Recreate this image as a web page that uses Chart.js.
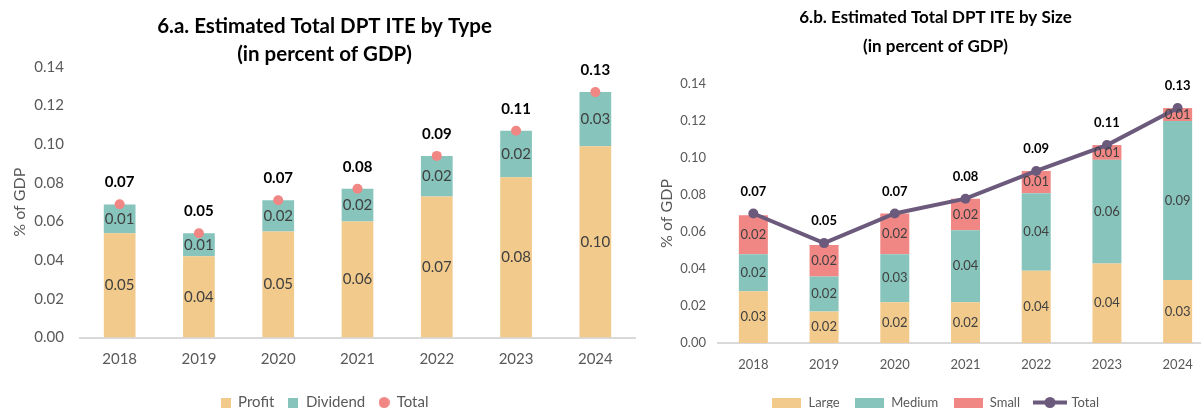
<!DOCTYPE html>
<html>
<head>
<meta charset="utf-8">
<title>Estimated Total DPT ITE</title>
<script src="https://cdn.jsdelivr.net/npm/chart.js@4.4.1/dist/chart.umd.min.js"></script>
<style>
  html, body { margin: 0; padding: 0; background: #fff; overflow: hidden; }
  body { width: 1201px; height: 408px; position: relative; }
  .panel { position: absolute; top: 0; height: 408px; overflow: hidden; }
  #typePanel { left: 0; width: 640px; }
  #sizePanel { left: 640px; width: 561px; }
  canvas { display: block; }
</style>
</head>
<body>
<div class="panel" id="typePanel"><canvas id="typeChart" width="640" height="420"></canvas></div>
<div class="panel" id="sizePanel"><canvas id="sizeChart" width="578" height="419"></canvas></div>
<script>
// Values (percent of GDP)
const years = ['2018', '2019', '2020', '2021', '2022', '2023', '2024'];
const yTicks = [0, 0.02, 0.04, 0.06, 0.08, 0.10, 0.12, 0.14];

// 6.a - by type
const profit = [0.054, 0.042, 0.0548, 0.060, 0.073, 0.083, 0.099];
const dividend = [0.0148, 0.012, 0.0162, 0.017, 0.021, 0.024, 0.028];
const totalByType = [0.069, 0.054, 0.071, 0.077, 0.094, 0.107, 0.127];

// 6.b - by size
const large = [0.028, 0.017, 0.022, 0.022, 0.039, 0.043, 0.034];
const medium = [0.020, 0.019, 0.026, 0.039, 0.042, 0.056, 0.086];
const small = [0.021, 0.017, 0.022, 0.017, 0.012, 0.008, 0.007];
const totalBySize = [0.070, 0.054, 0.070, 0.078, 0.093, 0.107, 0.127];

const colors = {
    peach: '#F2CA8C',
    teal: '#86C4BC',
    salmon: '#F08784',
    purple: '#6C5A7C',
    axis: '#D9D9D9',
    tick: '#595959',
    inner: '#404040'
};

Chart.defaults.font.family = 'Lato, "Open Sans", sans-serif';
Chart.defaults.color = colors.tick;

// small canvases used as legend markers
function marker(w, h, draw) {
    const c = document.createElement('canvas');
    c.width = w;
    c.height = h;
    draw(c.getContext('2d'), w, h);
    return c;
}
function boxMarker(w, h, color) {
    return marker(w, h, (ctx) => { ctx.fillStyle = color; ctx.fillRect(0, 0, w, h); });
}
function dotMarker(d, color) {
    return marker(d, d, (ctx) => {
        ctx.fillStyle = color;
        ctx.beginPath();
        ctx.arc(d / 2, d / 2, d / 2, 0, Math.PI * 2);
        ctx.fill();
    });
}
function lineDotMarker(w, h, color) {
    return marker(w, h, (ctx) => {
        ctx.strokeStyle = color;
        ctx.lineWidth = 4;
        ctx.beginPath();
        ctx.moveTo(0, h / 2);
        ctx.lineTo(w, h / 2);
        ctx.stroke();
        ctx.fillStyle = color;
        ctx.beginPath();
        ctx.arc(w / 2, h / 2, h / 2, 0, Math.PI * 2);
        ctx.fill();
    });
}

// Draws the segment values inside the bars and the totals above the points
const valueLabels = {
    id: 'valueLabels',
    afterDatasetsDraw(chart, args, opts) {
        const ctx = chart.ctx;
        ctx.save();
        ctx.textAlign = 'center';
        ctx.textBaseline = 'middle';
        chart.data.datasets.forEach((ds, i) => {
            const meta = chart.getDatasetMeta(i);
            if (meta.hidden) return;
            meta.data.forEach((el, j) => {
                const text = ds.data[j].toFixed(2);
                if (meta.type === 'bar') {
                    const p = el.getProps(['x', 'y', 'base'], true);
                    ctx.font = opts.size + 'px ' + Chart.defaults.font.family;
                    ctx.fillStyle = colors.inner;
                    ctx.fillText(text, p.x, (p.y + p.base) / 2);
                } else {
                    ctx.font = 'bold ' + opts.size + 'px ' + Chart.defaults.font.family;
                    ctx.fillStyle = '#000';
                    ctx.fillText(text, el.x, el.y - opts.offset);
                }
            });
        });
        ctx.restore();
    }
};

function makeOptions(cfg) {
    return {
        responsive: false,
        animation: false,
        layout: { padding: cfg.padding },
        scales: {
            x: {
                stacked: true,
                grid: { display: false, drawTicks: false },
                border: { display: true, color: colors.axis, width: 2 },
                ticks: { padding: cfg.xPad, font: { size: cfg.tickSize }, color: colors.tick },
                afterFit: (s) => { s.height = cfg.xHeight; }
            },
            y: {
                stacked: true,
                min: 0,
                max: 0.14,
                grid: { display: false, drawTicks: false },
                border: { display: false },
                afterBuildTicks: (s) => { s.ticks = yTicks.map(v => ({ value: v })); },
                ticks: {
                    padding: cfg.yPad,
                    font: { size: cfg.tickSize },
                    color: colors.tick,
                    callback: (v) => Number(v).toFixed(2)
                },
                title: {
                    display: true,
                    text: '% of GDP',
                    color: colors.tick,
                    font: { size: 16, lineHeight: '16px' },
                    padding: { top: cfg.yTitlePad, bottom: 0 }
                },
                afterFit: (s) => { s.width = cfg.yWidth; }
            }
        },
        plugins: {
            title: {
                display: true,
                text: cfg.title,
                color: '#000',
                font: { size: cfg.titleSize, weight: 'bold', lineHeight: cfg.titleLine },
                padding: cfg.titlePad
            },
            legend: {
                position: 'bottom',
                labels: {
                    usePointStyle: true,
                    boxWidth: cfg.boxWidth,
                    boxHeight: 10,
                    pointStyleWidth: cfg.boxWidth,
                    padding: cfg.legendPad,
                    color: colors.tick,
                    font: { size: cfg.legendSize },
                    sort: (a, b) => a.datasetIndex - b.datasetIndex,
                    generateLabels: (chart) => {
                        const items = Chart.defaults.plugins.legend.labels.generateLabels(chart);
                        items.forEach(it => { it.pointStyle = cfg.markers[it.datasetIndex]; });
                        return items;
                    }
                }
            },
            tooltip: { enabled: false },
            valueLabels: { size: cfg.labelSize, offset: 22 }
        }
    };
}

// 6.a Estimated Total DPT ITE by Type
new Chart(document.getElementById('typeChart'), {
    type: 'bar',
    data: {
        labels: years,
        datasets: [
            { label: 'Profit', data: profit, backgroundColor: colors.peach, order: 1,
              categoryPercentage: 1, barPercentage: 0.4 },
            { label: 'Dividend', data: dividend, backgroundColor: colors.teal, order: 1,
              categoryPercentage: 1, barPercentage: 0.4 },
            { label: 'Total', type: 'line', data: totalByType, stack: 'total', order: 0,
              showLine: false, pointRadius: 5, pointBorderWidth: 0,
              pointBackgroundColor: colors.salmon, backgroundColor: colors.salmon }
        ]
    },
    options: makeOptions({
        title: ['6.a. Estimated Total DPT ITE by Type', '(in percent of GDP)'],
        titleSize: 20.5, titleLine: '28px', titlePad: { top: 12, bottom: -1 },
        padding: { left: 12, right: 3, top: 0, bottom: 0 },
        tickSize: 15, labelSize: 15, legendSize: 15,
        xPad: 13, xHeight: 43.5, yPad: 16, yWidth: 68, yTitlePad: 0,
        boxWidth: 10, legendPad: 14,
        markers: [boxMarker(10, 10, colors.peach), boxMarker(10, 10, colors.teal), dotMarker(11, colors.salmon)]
    }),
    plugins: [valueLabels]
});

// 6.b Estimated Total DPT ITE by Size
new Chart(document.getElementById('sizeChart'), {
    type: 'bar',
    data: {
        labels: years,
        datasets: [
            { label: 'Large', data: large, backgroundColor: colors.peach, order: 1,
              categoryPercentage: 1, barPercentage: 0.41 },
            { label: 'Medium', data: medium, backgroundColor: colors.teal, order: 1,
              categoryPercentage: 1, barPercentage: 0.41 },
            { label: 'Small', data: small, backgroundColor: colors.salmon, order: 1,
              categoryPercentage: 1, barPercentage: 0.41 },
            { label: 'Total', type: 'line', data: totalBySize, stack: 'total', order: 0,
              borderColor: colors.purple, borderWidth: 4, backgroundColor: colors.purple,
              pointRadius: 5, pointBorderWidth: 0, pointBackgroundColor: colors.purple }
        ]
    },
    options: makeOptions({
        title: ['6.b. Estimated Total DPT ITE by Size', '(in percent of GDP)'],
        titleSize: 17, titleLine: '29px', titlePad: { top: 3.5, bottom: 22.5 },
        padding: { left: 13, right: 0, top: 0, bottom: 0 },
        tickSize: 13, labelSize: 13, legendSize: 13,
        xPad: 14, xHeight: 38, yPad: 12, yWidth: 65, yTitlePad: 6,
        boxWidth: 30, legendPad: 15,
        markers: [boxMarker(29, 10, colors.peach), boxMarker(29, 10, colors.teal),
                  boxMarker(29, 10, colors.salmon), lineDotMarker(34, 11, colors.purple)]
    }),
    plugins: [valueLabels]
});
</script>
</body>
</html>
